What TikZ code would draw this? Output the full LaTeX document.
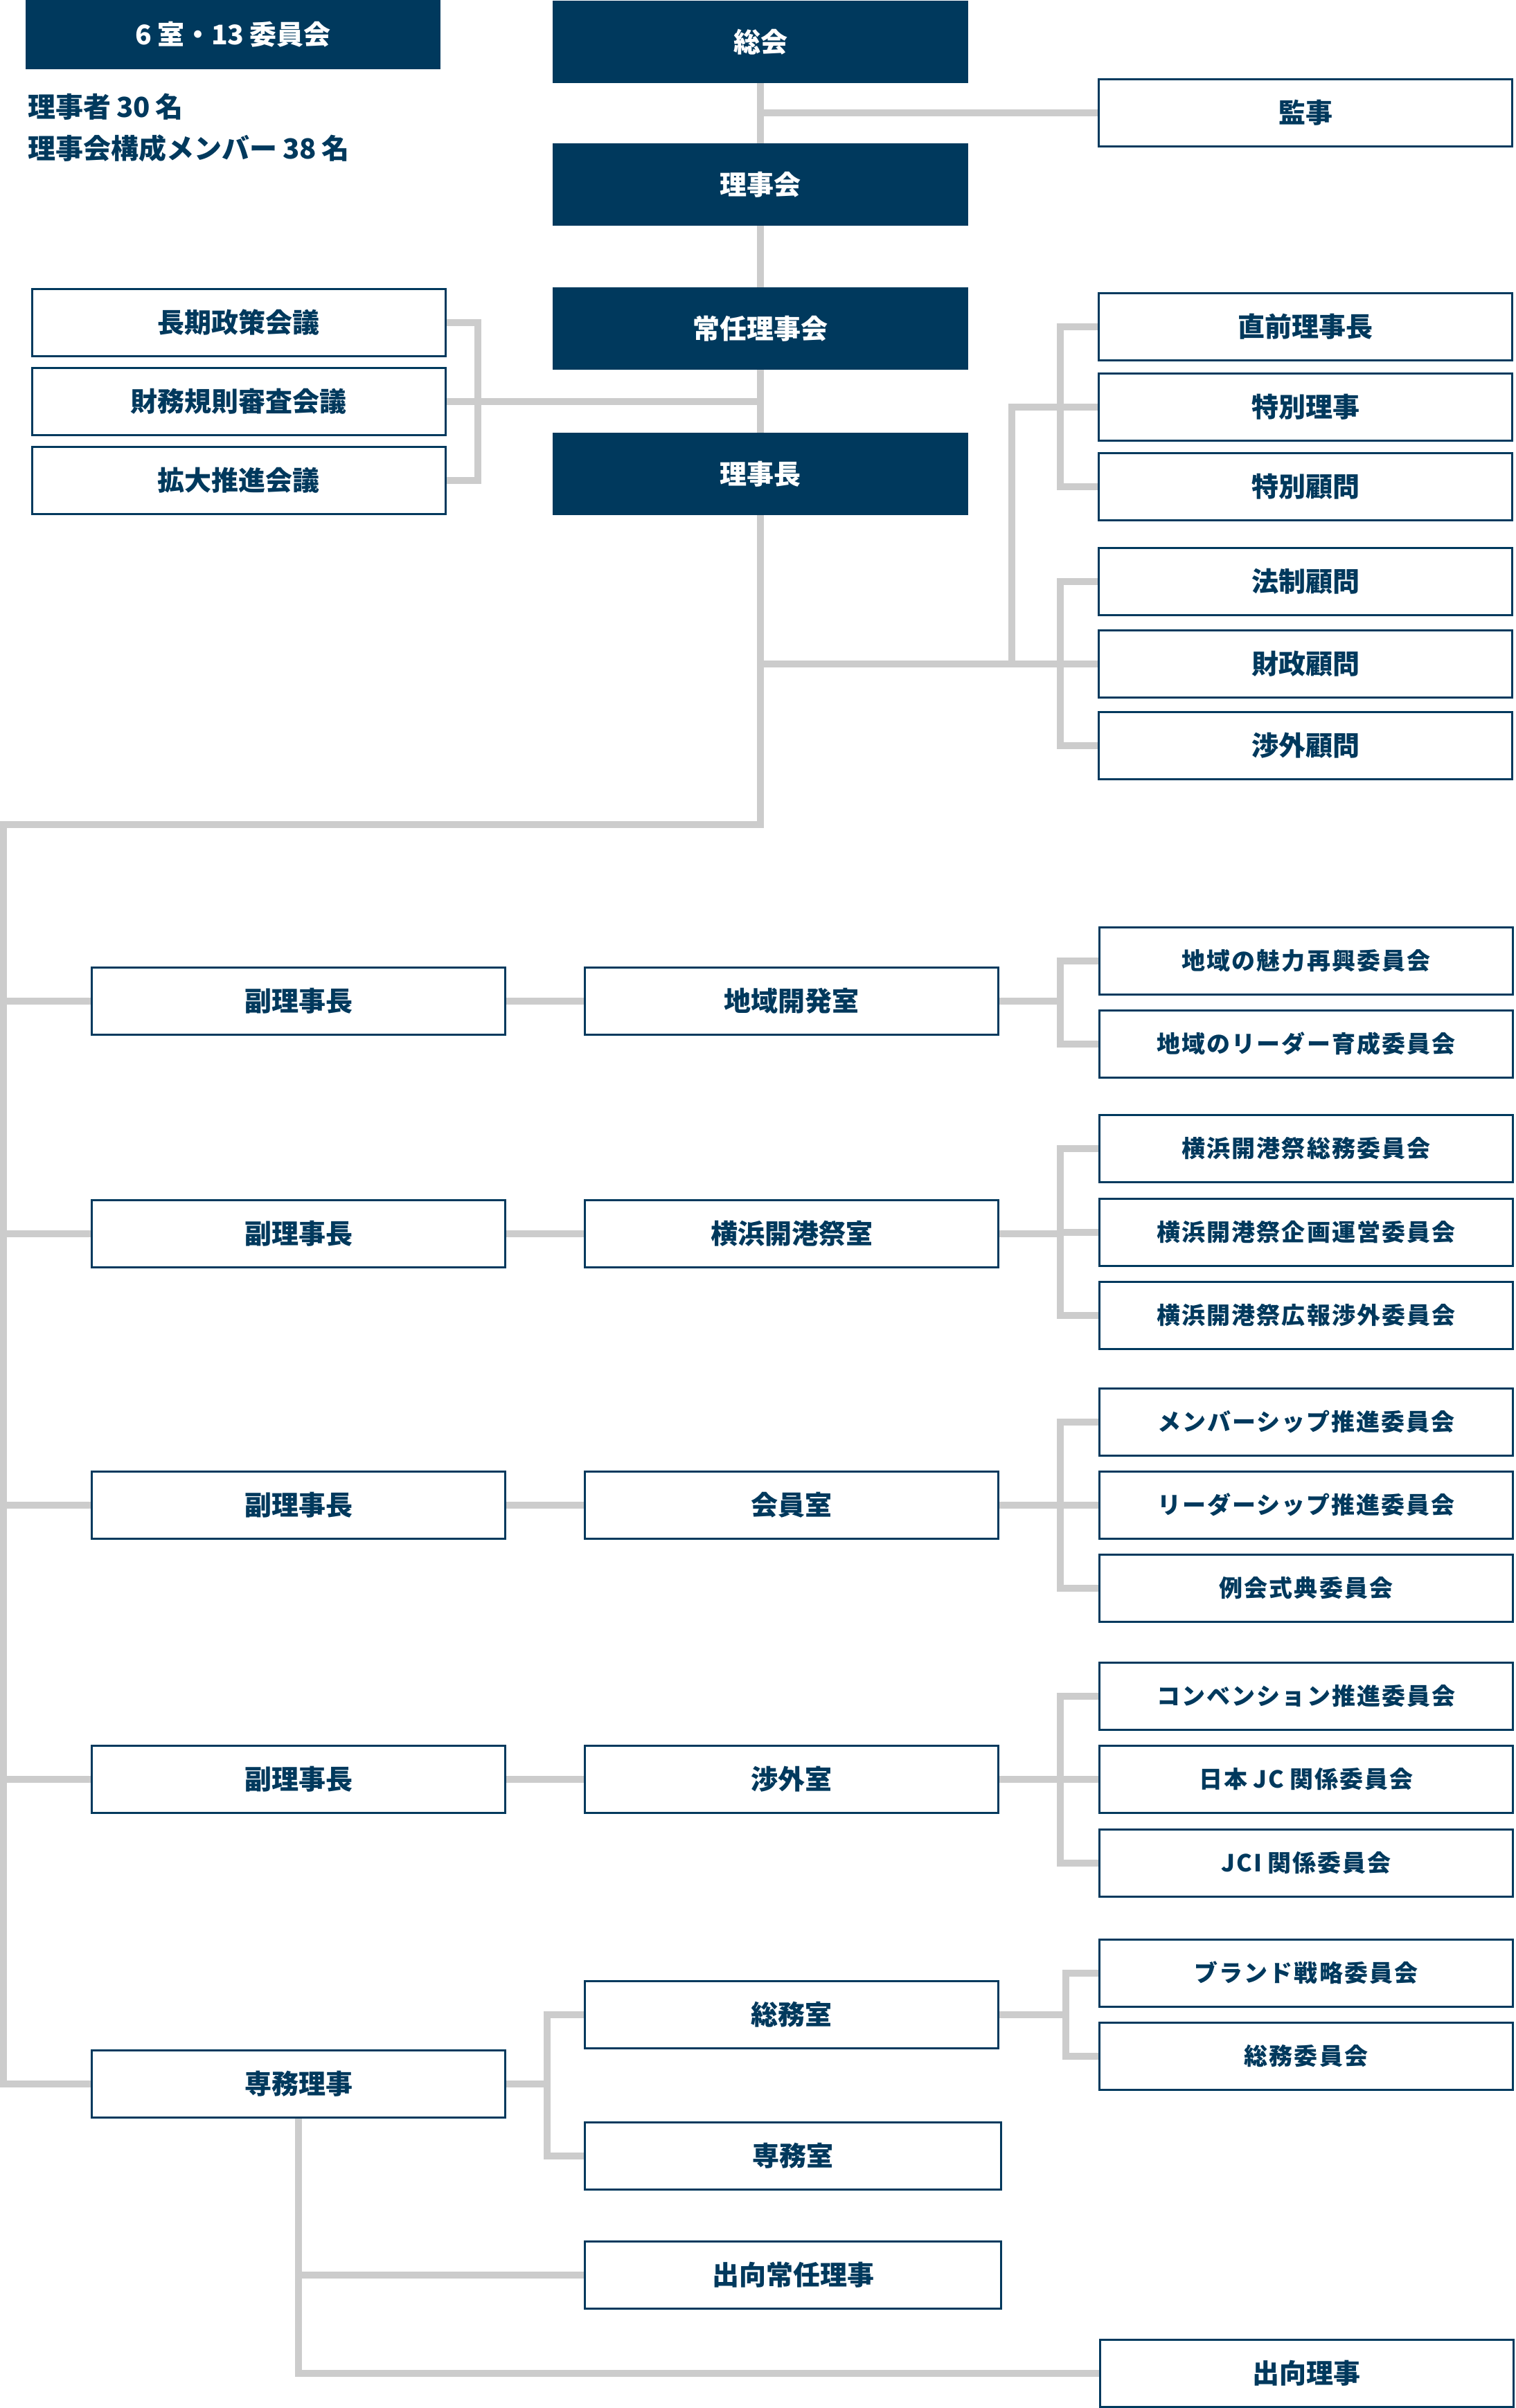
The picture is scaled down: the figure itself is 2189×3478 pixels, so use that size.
\documentclass[tikz,border=0pt]{standalone}
\usepackage{fontspec}
\setmainfont{Noto Sans CJK JP}
\definecolor{navy}{RGB}{0,57,93}
\definecolor{lgray}{RGB}{204,204,204}
\pgfdeclarelayer{bg}
\pgfsetlayers{bg,main}
\begin{document}
\begin{tikzpicture}[x=1pt,y=-1pt,
 conn/.style={draw=lgray,line width=10pt,line cap=rect,line join=miter},
 dbox/.style={fill=navy,draw=none,minimum width=600pt,minimum height=119pt,inner sep=0pt,text=white,font=\fontsize{39}{44}\selectfont\bfseries},
 wbox/.style={fill=white,draw=navy,line width=3pt,minimum width=597pt,minimum height=97pt,inner sep=0pt,text=navy,font=\fontsize{39}{44}\selectfont\bfseries},
 cbox/.style={wbox,font=\fontsize{34}{40}\selectfont\bfseries\addfontfeatures{LetterSpace=6}},
 note/.style={anchor=west,inner sep=0pt,text=navy,font=\fontsize{40}{46}\selectfont\bfseries}]
\useasboundingbox (0,0) rectangle (2189,3478);
% top
\node[dbox,minimum height=100pt,minimum width=599pt] (title) at (336.5,50) {6\hspace{0.2em}室・13\hspace{0.2em}委員会};
\node[note] (n1) at (40,154) {理事者\hspace{0.2em}30\hspace{0.2em}名};
\node[note] (n2) at (40,214) {理事会構成メンバー\hspace{0.2em}38\hspace{0.2em}名};
\node[dbox] (sokai) at (1098,60.5) {総会};
\node[dbox] (rijikai) at (1098,266.5) {理事会};
\node[dbox] (jonin) at (1098,474.5) {常任理事会};
\node[dbox] (rijicho) at (1098,684.5) {理事長};
\node[wbox] (kanji) at (1885,163) {監事};
\node[wbox] (chouki) at (344.5,465.5) {長期政策会議};
\node[wbox] (zaimu) at (344.5,580) {財務規則審査会議};
\node[wbox] (kakudai) at (344.5,694) {拡大推進会議};
\node[wbox] (chokuzen) at (1885,471.5) {直前理事長};
\node[wbox] (tokuri) at (1885,587.5) {特別理事};
\node[wbox] (tokukomon) at (1885,703) {特別顧問};
\node[wbox] (hosei) at (1885,840) {法制顧問};
\node[wbox] (zaisei) at (1885,959) {財政顧問};
\node[wbox] (shogai) at (1885,1077) {渉外顧問};
% rows
\node[wbox] (fuku1) at (431,1446) {副理事長};
\node[wbox] (chiiki) at (1143,1446) {地域開発室};
\node[cbox] (c11) at (1886,1387.5) {地域の魅力再興委員会};
\node[cbox] (c12) at (1886,1507.5) {地域のリーダー育成委員会};
\node[wbox] (fuku2) at (431,1782) {副理事長};
\node[wbox] (kaiko) at (1143,1782) {横浜開港祭室};
\node[cbox] (c21) at (1886,1659) {横浜開港祭総務委員会};
\node[cbox] (c22) at (1886,1779.5) {横浜開港祭企画運営委員会};
\node[cbox] (c23) at (1886,1900) {横浜開港祭広報渉外委員会};
\node[wbox] (fuku3) at (431,2174) {副理事長};
\node[wbox] (kaiin) at (1143,2174) {会員室};
\node[cbox] (c31) at (1886,2054) {メンバーシップ推進委員会};
\node[cbox] (c32) at (1886,2173.5) {リーダーシップ推進委員会};
\node[cbox] (c33) at (1886,2294) {例会式典委員会};
\node[wbox] (fuku4) at (431,2570) {副理事長};
\node[wbox] (shogaishitsu) at (1143,2570) {渉外室};
\node[cbox] (c41) at (1886,2450) {コンベンション推進委員会};
\node[cbox] (c42) at (1886,2569.5) {日本\hspace{0.25em}JC\hspace{0.25em}関係委員会};
\node[cbox] (c43) at (1886,2690.5) {JCI\hspace{0.25em}関係委員会};
\node[wbox] (senmu) at (431,3010) {専務理事};
\node[wbox] (somushitsu) at (1143,2910) {総務室};
\node[wbox,minimum width=601pt] (senmushitsu) at (1145,3113.5) {専務室};
\node[wbox,minimum width=601pt] (shukkojonin) at (1145,3286) {出向常任理事};
\node[cbox] (c51) at (1886,2849.5) {ブランド戦略委員会};
\node[cbox] (c52) at (1886,2970) {総務委員会};
\node[wbox] (shukko) at (1886.5,3427.5) {出向理事};
% connectors
\coordinate (mvb) at (1098,1191);
\coordinate (lt) at (5,1191);
\coordinate (lbr) at (690,0);
\coordinate (av) at (1461,0);
\coordinate (abr) at (1531,0);
\coordinate (sbr) at (790,0);
\coordinate (gbr) at (1539,0);
\begin{pgfonlayer}{bg}
\draw[conn] (sokai.center) -- (mvb) -- (lt) -- (lt |- senmu) -- (senmu.west);
\draw[conn] (sokai |- kanji) -- (kanji.west);
\draw[conn] (chouki.east) -- (lbr |- chouki) -- (lbr |- kakudai) -- (kakudai.east);
\draw[conn] (zaimu.east) -- (sokai |- zaimu);
\draw[conn] (sokai |- zaisei) -- (zaisei.west);
\draw[conn] (av |- zaisei) -- (av |- tokuri) -- (tokuri.west);
\draw[conn] (chokuzen.west) -- (abr |- chokuzen) -- (abr |- tokukomon) -- (tokukomon.west);
\draw[conn] (hosei.west) -- (abr |- hosei) -- (abr |- shogai) -- (shogai.west);
% row 1
\draw[conn] (lt |- fuku1) -- (fuku1.west);
\draw[conn] (fuku1.east) -- (chiiki.west);
\draw[conn] (chiiki.east) -- (abr |- chiiki);
\draw[conn] (c11.west) -- (abr |- c11) -- (abr |- c12) -- (c12.west);
% row 2
\draw[conn] (lt |- fuku2) -- (fuku2.west);
\draw[conn] (fuku2.east) -- (kaiko.west);
\draw[conn] (kaiko.east) -- (abr |- kaiko);
\draw[conn] (c21.west) -- (abr |- c21) -- (abr |- c23) -- (c23.west);
\draw[conn] (c22.west) -- (abr |- c22);
% row 3
\draw[conn] (lt |- fuku3) -- (fuku3.west);
\draw[conn] (fuku3.east) -- (kaiin.west);
\draw[conn] (kaiin.east) -- (abr |- kaiin);
\draw[conn] (c31.west) -- (abr |- c31) -- (abr |- c33) -- (c33.west);
\draw[conn] (c32.west) -- (abr |- c32);
% row 4
\draw[conn] (lt |- fuku4) -- (fuku4.west);
\draw[conn] (fuku4.east) -- (shogaishitsu.west);
\draw[conn] (shogaishitsu.east) -- (abr |- shogaishitsu);
\draw[conn] (c41.west) -- (abr |- c41) -- (abr |- c43) -- (c43.west);
\draw[conn] (c42.west) -- (abr |- c42);
% row 5
\draw[conn] (senmu.east) -- (sbr |- senmu);
\draw[conn] (somushitsu.west) -- (sbr |- somushitsu) -- (sbr |- senmushitsu) -- (senmushitsu.west);
\draw[conn] (somushitsu.east) -- (gbr |- somushitsu);
\draw[conn] (c51.west) -- (gbr |- c51) -- (gbr |- c52) -- (c52.west);
\draw[conn] (senmu.south) -- (senmu.south |- shukko) -- (shukko.west);
\draw[conn] (senmu.south |- shukkojonin) -- (shukkojonin.west);
\end{pgfonlayer}
\end{tikzpicture}
\end{document}
